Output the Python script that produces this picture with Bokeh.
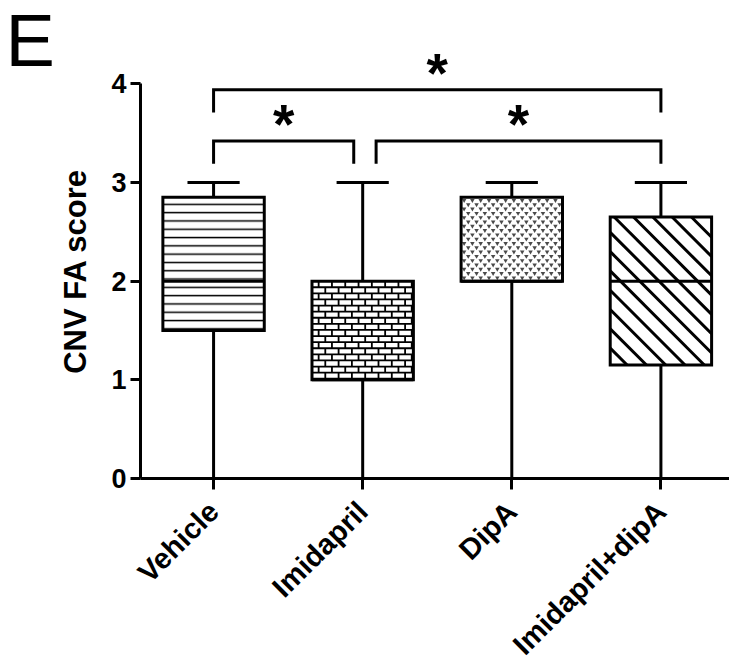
import math
from bokeh.plotting import figure
from bokeh.models import Range1d, FixedTicker, Label
from bokeh.core.properties import value
from bokeh.embed import file_html
from bokeh.resources import INLINE

# ---------------- data ----------------
categories = ["Vehicle", "Imidapril", "DipA", "Imidapril+dipA"]
whisker_low = [0.0, 0.0, 0.0, 0.0]
q1 = [1.5, 1.0, 2.0, 1.15]
median = [2.0, 1.0, 2.0, 2.0]
q3 = [2.85, 2.0, 2.85, 2.65]
whisker_high = [3.0, 3.0, 3.0, 3.0]
y_ticks = [0, 1, 2, 3, 4]

# significance comparisons (group a, group b, mark) and bracket heights
comp_a = ["Vehicle", "Imidapril", "Vehicle"]
comp_b = ["Imidapril", "Imidapril+dipA", "Imidapril+dipA"]
comp_mark = ["*", "*", "*"]
bracket_level = [3.42, 3.42, 3.94]

# ---------------- style ----------------
FONT = "Liberation Sans"
BOX_HALF = 0.34
CAP_HALF = 0.175
LW = 3
BRACKET_DROP = 0.23
BRACKET_TRIM = [(0.0, -0.06), (0.09, 0.0), (0.0, 0.0)]
AXIS_X = 0.51          # where the y axis sits
X_END = 4.46
box_fill = ["lines", "brick", "dots", "diagonal"]

W, H = 729, 666
PX_X = 149.1   # px per x unit
PX_Y = 98.67   # px per y unit
AX_LEFT_PX, AX_BOTTOM_PX = 140, 478
x_start = AXIS_X - AX_LEFT_PX / PX_X
y_start = -(H - AX_BOTTOM_PX) / PX_Y
y_end = AX_BOTTOM_PX / PX_Y

xs = [i + 1 for i in range(len(categories))]
pos = dict(zip(categories, xs))

p = figure(width=W, height=H, output_backend="svg", toolbar_location=None,
           x_range=Range1d(x_start, X_END), y_range=Range1d(y_start, y_end),
           min_border=0, min_border_left=0, min_border_right=0, min_border_top=0, min_border_bottom=0)
p.outline_line_color = None
p.grid.grid_line_color = None
p.background_fill_color = "white"
p.border_fill_color = "white"


# ---------- fill textures (drawn as glyphs inside each box) ----------
def brick_texture(l, r, b, t, row_px=6.1, len_px=13.3):
    hx0, hy, hx1 = [], [], []
    vx, vy0, vy1 = [], [], []
    row = row_px / PX_Y
    brick = len_px / PX_X
    k = 0
    top = t
    while top > b + 1e-9:
        bot = max(b, top - row)
        if bot > b + 1e-9:
            hx0.append(l); hx1.append(r); hy.append(bot)
        off = 0.5 * brick if k % 2 else 0.0
        x = l + off + brick * 0.5
        while x < r - 1e-9:
            vx.append(x); vy0.append(bot); vy1.append(top)
            x += brick
        top = bot
        k += 1
    p.segment(x0=hx0, y0=hy, x1=hx1, y1=hy, line_color="black", line_width=1.8)
    p.segment(x0=vx, y0=vy0, x1=vx, y1=vy1, line_color="black", line_width=1.8)


def dot_texture(l, r, b, t, dx_px=8.3, dy_px=4.3):
    mx, my = [], []
    dy = dy_px / PX_Y
    dx = dx_px / PX_X
    y = t - 3.0 / PX_Y
    k = 0
    while y > b + 2.0 / PX_Y:
        x = l + (3.0 / PX_X) + (0.5 * dx if k % 2 else 0.0)
        while x < r - 2.0 / PX_X:
            mx.append(x); my.append(y)
            x += dx
        y -= dy
        k += 1
    p.scatter(x=mx, y=my, marker="inverted_triangle", size=4.5, fill_color="#4a4a4a",
              line_color=None)


def diagonal_texture(l, r, b, t, spacing_px=19.3, phase_px=-4.0):
    wp = (r - l) * PX_X
    hp = (t - b) * PX_Y
    x0s, y0s, x1s, y1s = [], [], [], []
    c = phase_px
    while c > -wp:
        c -= spacing_px
    c += spacing_px
    while c < hp:
        a0 = max(0.0, -c)
        a1 = min(wp, hp - c)
        if a1 > a0:
            x0s.append(l + a0 / PX_X); y0s.append(t - (a0 + c) / PX_Y)
            x1s.append(l + a1 / PX_X); y1s.append(t - (a1 + c) / PX_Y)
        c += spacing_px
    p.segment(x0=x0s, y0=y0s, x1=x1s, y1=y1s, line_color="black", line_width=3)


# whiskers
p.segment(x0=xs, y0=whisker_low, x1=xs, y1=q1, line_color="black", line_width=LW)
p.segment(x0=xs, y0=q3, x1=xs, y1=whisker_high, line_color="black", line_width=LW)
p.segment(x0=[x - CAP_HALF for x in xs], y0=whisker_high, x1=[x + CAP_HALF for x in xs], y1=whisker_high,
          line_color="black", line_width=LW)

# boxes: white fill, texture, then outline on top
lefts = [x - BOX_HALF for x in xs]
rights = [x + BOX_HALF for x in xs]
for i in range(len(xs)):
    kw = {}
    if box_fill[i] == "lines":
        kw = dict(hatch_pattern="horizontal_line", hatch_scale=8.3, hatch_weight=1.5, hatch_color="black")
    p.quad(left=[lefts[i]], right=[rights[i]], bottom=[q1[i]], top=[q3[i]],
           fill_color="white", line_color=None, **kw)
    if box_fill[i] == "brick":
        brick_texture(lefts[i], rights[i], q1[i], q3[i])
    elif box_fill[i] == "dots":
        dot_texture(lefts[i], rights[i], q1[i], q3[i])
    elif box_fill[i] == "diagonal":
        diagonal_texture(lefts[i], rights[i], q1[i], q3[i])
p.quad(left=lefts, right=rights, bottom=q1, top=q3, fill_color=None,
       line_color="black", line_width=LW, line_join="miter")

# medians
p.segment(x0=lefts, y0=median, x1=rights, y1=median, line_color="black", line_width=LW)

# significance brackets
bx0, bx1, by, bdrop, mx, my = [], [], [], [], [], []
for i in range(len(comp_a)):
    a = pos[comp_a[i]] + BRACKET_TRIM[i][0]
    b = pos[comp_b[i]] + BRACKET_TRIM[i][1]
    lvl = bracket_level[i]
    bx0.append(a); bx1.append(b); by.append(lvl); bdrop.append(lvl - BRACKET_DROP)
    mx.append((a + b) / 2); my.append(lvl + 0.17)
p.multi_line(xs=[[a, a, b, b] for a, b in zip(bx0, bx1)],
             ys=[[d, l, l, d] for l, d in zip(by, bdrop)],
             line_color="black", line_width=LW, line_join="miter")
p.text(x=mx, y=my, text=comp_mark, text_font=value(FONT), text_font_style="bold",
       text_font_size=value("55px"), text_align="center", text_baseline="alphabetic",
       text_color="black")

# axes (placed at fixed locations so the whole canvas is the plotting frame)
p.xaxis.fixed_location = 0
p.yaxis.fixed_location = AXIS_X
p.xaxis.bounds = (AXIS_X, X_END)
p.yaxis.bounds = (0, 4)

p.xaxis.ticker = FixedTicker(ticks=xs)
p.xaxis.major_label_overrides = {x: c for x, c in zip(xs, categories)}
p.xaxis.major_label_orientation = math.pi / 4
p.xaxis.major_tick_in = 0
p.xaxis.major_tick_out = 11
p.xaxis.major_label_standoff = 17

p.yaxis.ticker = FixedTicker(ticks=y_ticks)
p.yaxis.major_tick_in = 0
p.yaxis.major_tick_out = 10
p.yaxis.major_label_standoff = 4

for ax in (p.xaxis, p.yaxis):
    ax.minor_tick_line_color = None
    ax.axis_line_width = LW
    ax.major_tick_line_width = LW
    ax.axis_line_color = "black"
    ax.major_tick_line_color = "black"
    ax.major_label_text_font = FONT
    ax.major_label_text_font_style = "bold"
    ax.major_label_text_color = "black"
p.xaxis.major_label_text_font_size = "29px"
p.yaxis.major_label_text_font_size = "27px"

# y axis title and panel letter
p.add_layout(Label(x=AXIS_X - (AX_LEFT_PX - 75) / PX_X, y=2.1, text="CNV FA score", angle=math.pi / 2,
                   text_align="center", text_baseline="middle", text_font=FONT,
                   text_font_style="bold", text_font_size="31px", text_color="black"))
p.add_layout(Label(x=AXIS_X - (AX_LEFT_PX - 5) / PX_X, y=(AX_BOTTOM_PX - 40) / PX_Y, text="E",
                   text_align="left", text_baseline="alphabetic",
                   text_font=FONT, text_font_size="74px", text_color="black"))

open("out.html", "w").write(file_html(p, INLINE))
